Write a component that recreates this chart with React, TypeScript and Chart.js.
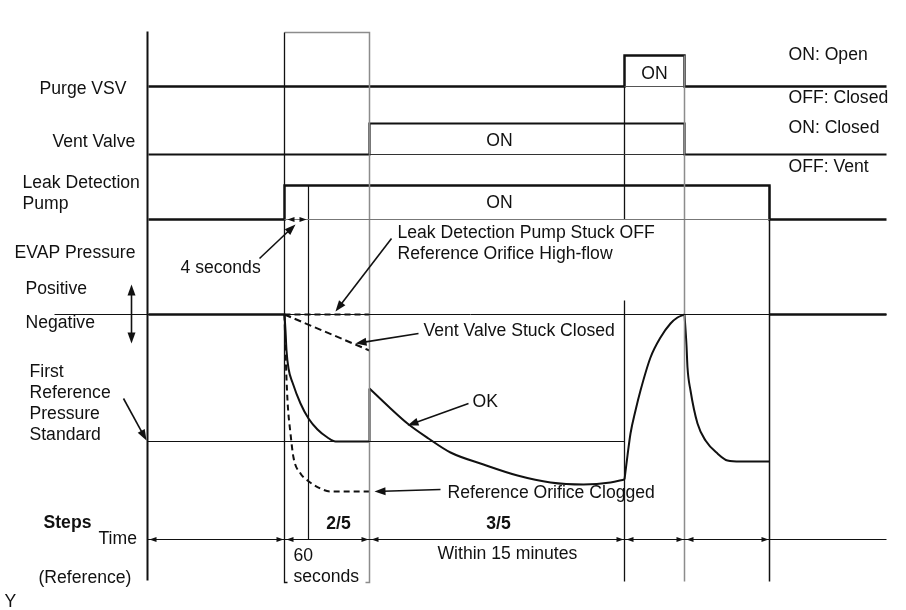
import React, { useEffect, useRef } from "react";
import { Chart, registerables } from "chart.js";

Chart.register(...registerables);

type P = [number, number];

// ---- Signal traces (time, level) ----
const purgeVsv: P[] = [[148, 86], [624, 86], [624, 55], [684, 55], [684, 86], [886, 86]];
const ventValve: P[] = [[148, 154], [369, 154], [369, 123], [684, 123], [684, 154], [886, 154]];
const leakPump: P[] = [[148, 219], [284, 219], [284, 185], [769, 185], [769, 219], [886, 219]];

// EVAP pressure (OK case)
const okHold: P[] = [[148, 314], [284, 314]];
const okPumpDown: P[] = [[284, 314], [285, 330], [286, 350], [288, 368], [292, 382], [300, 403], [308, 418], [317, 429], [327, 437], [335, 441], [369, 441]];
const okStep: P[] = [[369, 441], [369, 388]];
const okLeakCheck: P[] = [[369, 388], [388, 406], [407, 423], [428, 438], [450, 452], [483, 464], [517, 475], [550, 482], [583, 484], [610, 482], [624, 479]];
const okPurgeRise: P[] = [[624, 479], [627, 455], [630, 433], [635, 410], [640, 390], [650, 357], [660, 337], [670, 323], [677, 317], [684, 314]];
const okFinalDown: P[] = [[684, 314], [686, 345], [687, 367], [690, 390], [697, 423], [705, 440], [717, 453], [727, 460], [740, 461], [769, 461]];
const okEnd: P[] = [[769, 314], [886, 314]];

// EVAP pressure (fault cases, dashed)
const stuckOff: P[] = [[284, 314], [369, 314]];
const ventStuck: P[] = [[284, 314], [369, 350]];
const orificeClogged: P[] = [[284, 314], [285, 350], [287, 400], [290, 433], [293, 457], [300, 473], [307, 480], [320, 488], [330, 491], [369, 491]];

// Reference lines
const negativeLevel: P[] = [[54, 314], [886, 314]];
const firstRefLevel: P[] = [[147, 441], [624, 441]];
const timeLine: P[] = [[147, 539], [886, 539]];
const purgeBase: P[] = [[624, 86], [684, 86]];
const ventBase: P[] = [[369, 154], [684, 154]];
const pumpBase: P[] = [[284, 219], [769, 219]];

// Vertical markers
const axisLine: P[] = [[147, 31], [147, 580]];
const pumpOnLine: P[] = [[284, 32], [284, 582], [287, 582]];
const step2Box: P[] = [[284, 32], [369, 32], [369, 582], [365, 582]];
const fourSecLine: P[] = [[308, 185], [308, 539]];
const purgeOnLineA: P[] = [[624, 55], [624, 219]];
const purgeOnLineB: P[] = [[624, 300], [624, 581]];
const purgeOffLine: P[] = [[684, 55], [684, 581]];
const pumpOffLine: P[] = [[769, 185], [769, 581]];

// Arrows: [x1, y1, x2, y2] tail -> head
const arrows: number[][] = [
  [259, 258, 295, 224],
  [391, 238, 335, 311],
  [418, 333, 355, 343],
  [468, 403, 407, 425],
  [440, 489, 374, 491],
  [123, 398, 146, 440],
  [131, 314, 131, 284],
  [131, 314, 131, 343],
];
// small arrowheads on the time row: [tipX, y, direction]
const timeHeads: number[][] = [
  [149, 539, -1],
  [283, 539, 1], [286, 539, -1],
  [368, 539, 1], [371, 539, -1],
  [623, 539, 1], [626, 539, -1],
  [683, 539, 1], [686, 539, -1],
  [768, 539, 1],
  [287, 219, -1], [306, 219, 1],
];

// Texts
const labels: (string | number | boolean)[][] = [
  ["Purge VSV", 39, 89, "left", false],
  ["Vent Valve", 52, 142, "left", false],
  ["Leak Detection", 22, 183, "left", false],
  ["Pump", 22, 204, "left", false],
  ["EVAP Pressure", 14, 253, "left", false],
  ["Positive", 25, 289, "left", false],
  ["Negative", 25, 323, "left", false],
  ["First", 29, 372, "left", false],
  ["Reference", 29, 393, "left", false],
  ["Pressure", 29, 414, "left", false],
  ["Standard", 29, 435, "left", false],
  ["Steps", 43, 523, "left", true],
  ["Time", 98, 539, "left", false],
  ["(Reference)", 38, 578, "left", false],
  ["Y", 4, 602, "left", false],
  ["ON: Open", 788, 55, "left", false],
  ["OFF: Closed", 788, 98, "left", false],
  ["ON: Closed", 788, 128, "left", false],
  ["OFF: Vent", 788, 167, "left", false],
  ["ON", 654, 74, "center", false],
  ["ON", 499, 141, "center", false],
  ["ON", 499, 203, "center", false],
  ["4 seconds", 180, 268, "left", false],
  ["Leak Detection Pump Stuck OFF", 397, 233, "left", false],
  ["Reference Orifice High-flow", 397, 254, "left", false],
  ["Vent Valve Stuck Closed", 423, 331, "left", false],
  ["OK", 472, 402, "left", false],
  ["Reference Orifice Clogged", 447, 493, "left", false],
  ["2/5", 338, 524, "center", true],
  ["3/5", 498, 524, "center", true],
  ["Within 15 minutes", 437, 554, "left", false],
  ["60", 293, 556, "left", false],
  ["seconds", 293, 577, "left", false],
];

const INK = "#111111";
const GREY = "#8c8c8c";
const FONT = '"Liberation Sans", Arial, Helvetica, sans-serif';

function ds(points: P[], width: number, color: string, dash: number[] = [], curve = false) {
  return {
    data: points.map(([x, y]) => ({ x, y })),
    showLine: true,
    borderColor: color,
    backgroundColor: color,
    borderWidth: width,
    borderDash: dash,
    pointRadius: 0,
    pointHoverRadius: 0,
    fill: false,
    cubicInterpolationMode: curve ? "monotone" : "default",
    tension: 0,
    borderCapStyle: "butt",
    borderJoinStyle: "miter",
  } as any;
}

const overlayPlugin = {
  id: "overlay",
  afterDatasetsDraw(chart: any) {
    const ctx = chart.ctx as CanvasRenderingContext2D;
    const xs = chart.scales.x;
    const ys = chart.scales.y;
    const px = (v: number) => xs.getPixelForValue(v);
    const py = (v: number) => ys.getPixelForValue(v);
    ctx.save();
    ctx.strokeStyle = INK;
    ctx.fillStyle = INK;
    // arrows
    for (const [x1, y1, x2, y2] of arrows) {
      const ax = px(x1), ay = py(y1), bx = px(x2), by = py(y2);
      const ang = Math.atan2(by - ay, bx - ax);
      const len = 11, hw = 4;
      ctx.lineWidth = 1.6;
      ctx.beginPath();
      ctx.moveTo(ax, ay);
      ctx.lineTo(bx - Math.cos(ang) * len * 0.8, by - Math.sin(ang) * len * 0.8);
      ctx.stroke();
      ctx.beginPath();
      ctx.moveTo(bx, by);
      ctx.lineTo(bx - Math.cos(ang) * len - Math.sin(ang) * hw, by - Math.sin(ang) * len + Math.cos(ang) * hw);
      ctx.lineTo(bx - Math.cos(ang) * len + Math.sin(ang) * hw, by - Math.sin(ang) * len - Math.cos(ang) * hw);
      ctx.closePath();
      ctx.fill();
    }
    // small heads
    for (const [tx, ty, dir] of timeHeads) {
      const x = px(tx), y = py(ty);
      ctx.beginPath();
      ctx.moveTo(x, y);
      ctx.lineTo(x - dir * 7, y - 2.5);
      ctx.lineTo(x - dir * 7, y + 2.5);
      ctx.closePath();
      ctx.fill();
    }
    // texts
    ctx.textBaseline = "middle";
    for (const [text, x, y, align, bold] of labels) {
      ctx.font = `${bold ? "bold " : ""}17.6px ${FONT}`;
      ctx.textAlign = align as CanvasTextAlign;
      ctx.fillText(String(text), px(x as number), py(y as number));
    }
    ctx.restore();
  },
};

export default function App() {
  const ref = useRef<HTMLCanvasElement | null>(null);
  useEffect(() => {
    if (!ref.current) return;
    const datasets = [
      // reference / thin lines
      ds(negativeLevel, 1, INK),
      ds(firstRefLevel, 1, INK),
      ds(timeLine, 1, INK),
      ds(purgeBase, 1, "#555"),
      ds(ventBase, 1, "#333"),
      ds(pumpBase, 1, "#777"),
      ds(axisLine, 2, INK),
      ds(pumpOnLine, 1.3, INK),
      ds(step2Box, 1.5, GREY),
      ds(fourSecLine, 1.2, INK),
      ds(purgeOnLineA, 1.3, INK),
      ds(purgeOnLineB, 1.3, INK),
      ds(purgeOffLine, 1.5, GREY),
      ds(pumpOffLine, 1.5, INK),
      // signals
      ds(purgeVsv, 2.4, INK),
      ds(ventValve, 2.2, INK),
      ds(leakPump, 2.4, INK),
      // pressure OK
      ds(okHold, 2.4, INK),
      ds(okPumpDown, 2, INK, [], true),
      ds(okStep, 2, INK),
      ds(okLeakCheck, 2, INK, [], true),
      ds(okPurgeRise, 2, INK, [], true),
      ds(okFinalDown, 2, INK, [], true),
      ds(okEnd, 2.4, INK),
      // faults
      ds(stuckOff, 2, INK, [6, 4]),
      ds(ventStuck, 2, INK, [7, 4]),
      ds(orificeClogged, 2, INK, [6, 4], true),
    ];
    const chart = new Chart(ref.current, {
      type: "scatter",
      data: { datasets },
      options: {
        animation: false,
        responsive: false,
        maintainAspectRatio: false,
        layout: { padding: 0 },
        events: [],
        plugins: { legend: { display: false }, tooltip: { enabled: false }, title: { display: false } },
        scales: {
          x: { type: "linear", min: -0.5, max: 905.5, display: false },
          y: { type: "linear", min: -0.5, max: 609.5, reverse: true, display: false },
        },
      },
      plugins: [overlayPlugin],
    } as any);
    return () => chart.destroy();
  }, []);
  return (
    <div style={{ position: "fixed", left: 0, top: 0, width: 906, height: 610, background: "#fff" }}>
      <canvas ref={ref} width={906} height={610} style={{ width: 906, height: 610, display: "block" }} />
    </div>
  );
}
